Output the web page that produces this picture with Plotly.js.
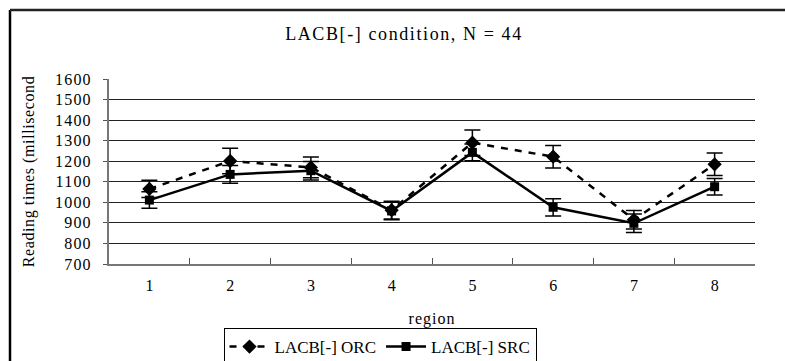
<!DOCTYPE html>
<html>
<head>
<meta charset="utf-8">
<script src="https://cdn.plot.ly/plotly-3.0.1.min.js"></script>
<style>
html,body{margin:0;padding:0;background:#fff;}
#chart{width:785px;height:361px;}
#chart .gtitle{letter-spacing:1.6px;}
#chart g.ytick text{letter-spacing:1.2px;}
#chart .ytitle{letter-spacing:0.6px;}
#chart .xtitle{letter-spacing:1px;}
</style>
</head>
<body>
<div id="chart"></div>
<script>
const regions = ['1', '2', '3', '4', '5', '6', '7', '8'];
const orcMeans = [1065, 1201, 1170, 962, 1290, 1222, 915, 1185];
const orcErrors = [42, 62, 50, 43, 62, 55, 45, 55];
const srcMeans = [1011, 1136, 1154, 958, 1243, 976, 898, 1076];
const srcErrors = [40, 43, 45, 43, 41, 42, 45, 40];
const yTicks = [700, 800, 900, 1000, 1100, 1200, 1300, 1400, 1500, 1600];

const W = 785, H = 361;
const M = {l: 109, r: 30, t: 79, b: 97};
const pw = W - M.l - M.r, ph = H - M.t - M.b;
const px = x => (x - M.l) / pw;
const py = y => (H - M.b - y) / ph;

const FONT = '"Liberation Serif", "Times New Roman", serif';

const traces = [
  {
    x: regions, y: orcMeans, name: 'LACB[-] ORC', type: 'scatter', mode: 'lines+markers',
    line: {color: '#000', width: 2.5, dash: '7px,7px'},
    marker: {symbol: 'diamond', size: 11, color: '#000'},
    error_y: {type: 'data', array: orcErrors, visible: true, color: '#000', thickness: 1.5, width: 8}
  },
  {
    x: regions, y: srcMeans, name: 'LACB[-] SRC', type: 'scatter', mode: 'lines+markers',
    line: {color: '#000', width: 2.5},
    marker: {symbol: 'square', size: 9, color: '#000'},
    error_y: {type: 'data', array: srcErrors, visible: true, color: '#000', thickness: 1.5, width: 8}
  }
];

const layout = {
  width: W, height: H,
  margin: M,
  paper_bgcolor: '#fff', plot_bgcolor: '#fff',
  font: {family: FONT, color: '#000', size: 15},
  title: {text: 'LACB[-] condition, N = 44', x: 404 / W, xanchor: 'center', xref: 'container',
          y: 1 - 34 / H, yanchor: 'middle', yref: 'container', font: {family: FONT, size: 18, color: '#000'}},
  xaxis: {
    type: 'category', tickmode: 'array', tickvals: regions, ticktext: regions,
    tickson: 'boundaries', ticks: 'inside', ticklen: 6, tickcolor: '#555', tickwidth: 1,
    ticklabelstandoff: 6,
    showline: true, linecolor: '#777', linewidth: 2, showgrid: false, zeroline: false,
    tickfont: {family: FONT, size: 16, color: '#000'},
    title: {text: 'region', font: {family: FONT, size: 16, color: '#000'}, standoff: 20},
    range: [-0.5, 7.5]
  },
  yaxis: {
    range: [700, 1600], tickmode: 'array', tickvals: yTicks, ticktext: yTicks.map(String),
    ticks: 'outside', ticklen: 4, tickcolor: '#555',
    ticklabelstandoff: 8,
    showline: true, linecolor: '#777', linewidth: 2,
    showgrid: true, gridcolor: '#222', gridwidth: 1, zeroline: false,
    tickfont: {family: FONT, size: 16, color: '#000'},
    title: {text: 'Reading times (millisecond', font: {family: FONT, size: 16, color: '#000'}, standoff: 21}
  },
  showlegend: true,
  legend: {
    orientation: 'h', xref: 'container', yref: 'container',
    x: 380 / W, xanchor: 'center', y: 1 - 328 / H, yanchor: 'top',
    bordercolor: '#000', borderwidth: 1, bgcolor: '#fff',
    font: {family: FONT, size: 17, color: '#000'}, itemwidth: 40
  },
  shapes: [
    {type: 'line', xref: 'paper', yref: 'paper', x0: px(10), x1: px(10), y0: py(H + 5), y1: py(10),
     line: {color: '#000', width: 2.5}},
    {type: 'line', xref: 'paper', yref: 'paper', x0: px(10), x1: px(W + 5), y0: py(10), y1: py(10),
     line: {color: '#222', width: 2.5}}
  ]
};

Plotly.newPlot('chart', traces, layout, {displayModeBar: false, staticPlot: true});
</script>
</body>
</html>
